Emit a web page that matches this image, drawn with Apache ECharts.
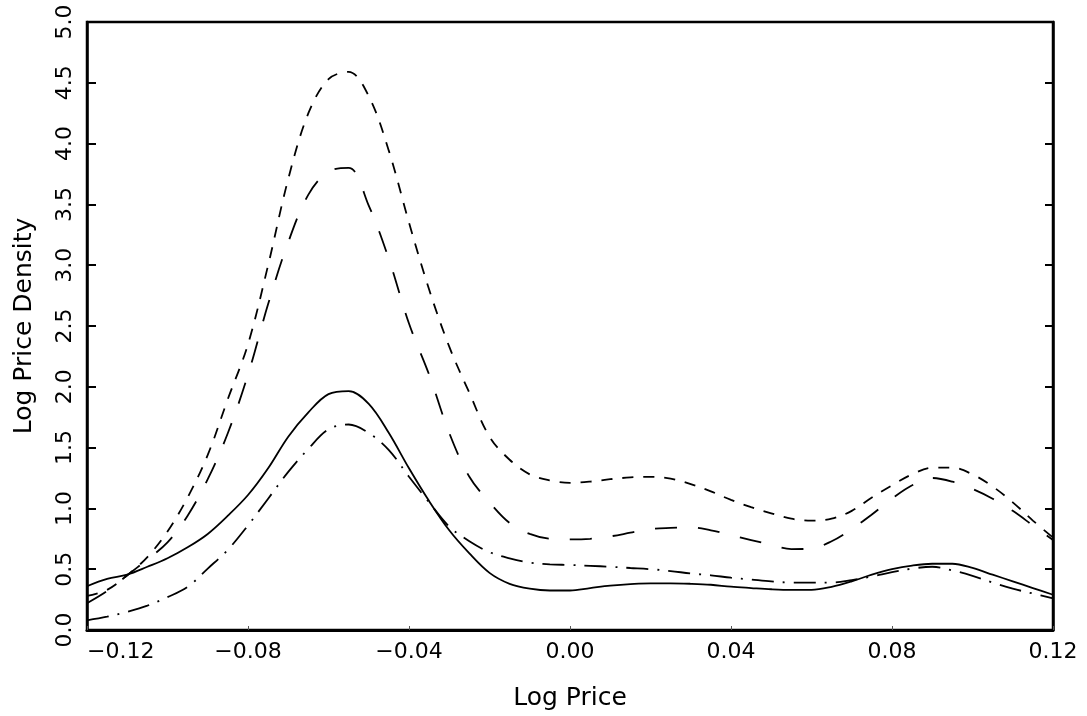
<!DOCTYPE html>
<html>
<head>
<meta charset="utf-8">
<script src="https://cdn.jsdelivr.net/npm/echarts@6/dist/echarts.min.js"></script>
<style>
html,body{margin:0;padding:0;background:#fff;}
#chart{width:1087px;height:716px;}
</style>
</head>
<body>
<div id="chart"></div>
<script>
// x grid of log price values
var xs = [-0.120,-0.115,-0.110,-0.105,-0.100,-0.095,-0.090,-0.085,-0.080,-0.075,-0.070,-0.065,-0.060,-0.055,-0.050,-0.045,-0.040,-0.035,-0.030,-0.025,-0.020,-0.015,-0.010,-0.005,0.000,0.005,0.010,0.015,0.020,0.025,0.030,0.035,0.040,0.045,0.050,0.055,0.060,0.065,0.070,0.075,0.080,0.085,0.090,0.095,0.100,0.105,0.110,0.115,0.120];

// solid curve
var solidY = [0.36,0.42,0.455,0.52,0.59,0.68,0.79,0.94,1.11,1.33,1.59,1.79,1.94,1.965,1.86,1.62,1.33,1.06,0.82,0.63,0.47,0.38,0.34,0.325,0.325,0.345,0.365,0.378,0.383,0.384,0.38,0.372,0.356,0.345,0.335,0.33,0.33,0.355,0.40,0.455,0.50,0.53,0.545,0.545,0.51,0.455,0.40,0.345,0.29];

// short-dashed curve (highest peak)
var shortDashY = [0.28,0.33,0.45,0.60,0.81,1.09,1.44,1.90,2.35,3.0,3.71,4.25,4.53,4.59,4.39,3.94,3.35,2.80,2.33,1.95,1.59,1.40,1.28,1.23,1.21,1.22,1.24,1.255,1.26,1.245,1.20,1.14,1.07,1.01,0.96,0.915,0.90,0.915,0.98,1.09,1.19,1.28,1.335,1.335,1.28,1.18,1.05,0.90,0.76];

// long-dashed curve (second peak)
var longDashY = [0.22,0.32,0.45,0.58,0.72,0.94,1.24,1.62,2.10,2.68,3.19,3.58,3.77,3.80,3.49,3.05,2.52,2.10,1.62,1.26,1.05,0.88,0.79,0.75,0.745,0.75,0.77,0.80,0.83,0.84,0.845,0.82,0.78,0.74,0.70,0.665,0.67,0.73,0.83,0.95,1.08,1.19,1.25,1.22,1.16,1.08,0.98,0.86,0.74];

// dash-dot curve (lowest peak)
var dashDotY = [0.08,0.11,0.15,0.20,0.27,0.355,0.505,0.66,0.86,1.08,1.30,1.49,1.65,1.69,1.62,1.48,1.26,1.05,0.85,0.73,0.64,0.59,0.555,0.54,0.535,0.528,0.52,0.51,0.50,0.485,0.465,0.45,0.43,0.415,0.40,0.39,0.39,0.39,0.41,0.44,0.475,0.505,0.52,0.49,0.445,0.39,0.34,0.30,0.26];

function pairs(ys){ return xs.map(function(x,i){ return [x, ys[i]]; }); }
var FONT = 'DejaVu Sans';

var chart = echarts.init(document.getElementById('chart'), null, {renderer:'canvas'});
chart.setOption({
  backgroundColor:'#ffffff',
  animation:false,
  grid:{left:87,right:34,top:22,bottom:86,show:true,borderColor:'#000',borderWidth:2.5,backgroundColor:'transparent'},
  xAxis:{
    type:'value', min:-0.12, max:0.12, interval:0.04,
    name:'Log Price', nameLocation:'middle', nameGap:56,
    nameTextStyle:{fontFamily:FONT,fontSize:25,color:'#000'},
    axisLine:{show:true,onZero:false,lineStyle:{color:'#000',width:3}},
    axisTick:{show:true,inside:true,length:4,lineStyle:{color:'#555',width:1}},
    splitLine:{show:false},
    axisLabel:{fontFamily:FONT,fontSize:22,color:'#000',margin:11,alignMinLabel:'left',
      formatter:function(v){ var s=Math.abs(v).toFixed(2); return (v< -1e-9?'\u2212':'')+s; }}
  },
  yAxis:[{
    type:'value', min:0, max:5, interval:0.5, position:'left',
    name:'Log Price Density', nameLocation:'middle', nameGap:50, nameRotate:90,
    nameTextStyle:{fontFamily:FONT,fontSize:25,color:'#000'},
    axisLine:{show:true,onZero:false,lineStyle:{color:'#000',width:2.5}},
    axisTick:{show:true,inside:true,length:9,lineStyle:{color:'#000',width:2}},
    splitLine:{show:false},
    axisLabel:{fontFamily:FONT,fontSize:22,color:'#000',rotate:90,margin:11,
      formatter:function(v){ return v.toFixed(1); }}
  },{
    type:'value', min:0, max:5, interval:0.5, position:'right',
    axisLine:{show:true,onZero:false,lineStyle:{color:'#000',width:2.5}},
    axisTick:{show:true,inside:true,length:8,lineStyle:{color:'#000',width:2}},
    axisLabel:{show:false}, splitLine:{show:false}
  }],
  series:[
    {type:'line', name:'solid', data:pairs(solidY), smooth:0.35, symbol:'none',
      lineStyle:{color:'#000',width:1.8,type:'solid'}},
    {type:'line', name:'short dash', data:pairs(shortDashY), smooth:0.35, symbol:'none',
      lineStyle:{color:'#000',width:1.8,type:[11,10]}},
    {type:'line', name:'long dash', data:pairs(longDashY), smooth:0.35, symbol:'none',
      lineStyle:{color:'#000',width:1.8,type:[22,21]}},
    {type:'line', name:'dash dot', data:pairs(dashDotY), smooth:0.35, symbol:'none',
      lineStyle:{color:'#000',width:1.8,type:[22,9,2,9]}}
  ]
});
</script>
</body>
</html>
